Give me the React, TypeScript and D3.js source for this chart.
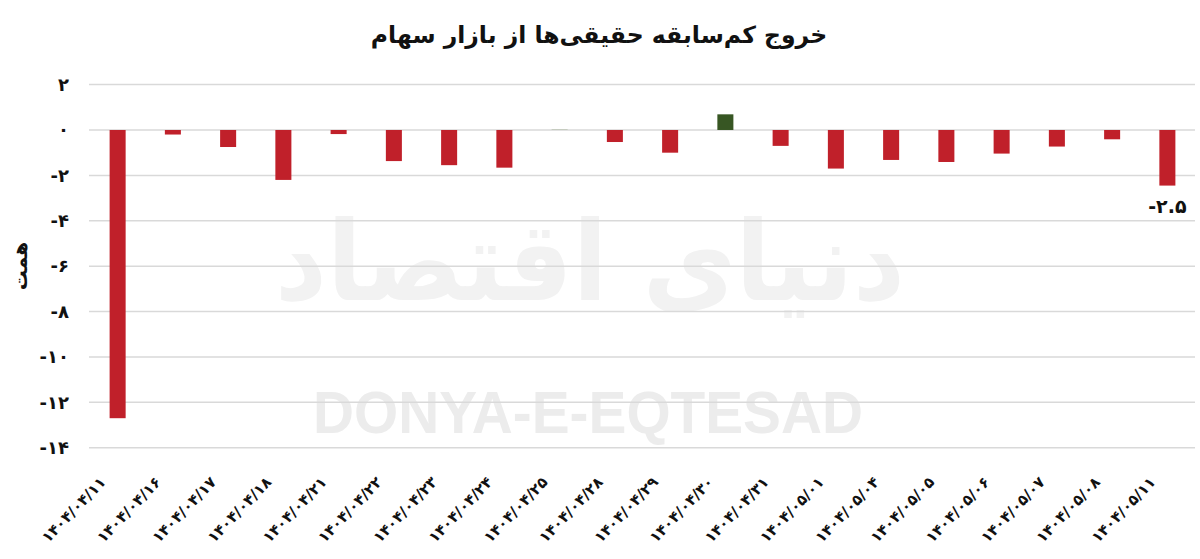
import React from "react";
import * as d3 from "d3";

const categories: string[] = [
  "۱۴۰۴/۰۴/۱۱", "۱۴۰۴/۰۴/۱۶", "۱۴۰۴/۰۴/۱۷", "۱۴۰۴/۰۴/۱۸", "۱۴۰۴/۰۴/۲۱",
  "۱۴۰۴/۰۴/۲۲", "۱۴۰۴/۰۴/۲۳", "۱۴۰۴/۰۴/۲۴", "۱۴۰۴/۰۴/۲۵", "۱۴۰۴/۰۴/۲۸",
  "۱۴۰۴/۰۴/۲۹", "۱۴۰۴/۰۴/۳۰", "۱۴۰۴/۰۴/۳۱", "۱۴۰۴/۰۵/۰۱", "۱۴۰۴/۰۵/۰۴",
  "۱۴۰۴/۰۵/۰۵", "۱۴۰۴/۰۵/۰۶", "۱۴۰۴/۰۵/۰۷", "۱۴۰۴/۰۵/۰۸", "۱۴۰۴/۰۵/۱۱",
];
const values: number[] = [
  -12.7, -0.2, -0.75, -2.2, -0.18, -1.37, -1.55, -1.66, 0.03, -0.53,
  -1.0, 0.69, -0.7, -1.7, -1.32, -1.41, -1.04, -0.73, -0.41, -2.45,
];
const yTicks: number[] = [2, 0, -2, -4, -6, -8, -10, -12, -14];
const yTickLabels: string[] = ["۲", "۰", "-۲", "-۴", "-۶", "-۸", "-۱۰", "-۱۲", "-۱۴"];
const lastLabel = "-۲.۵";
const title = "خروج کم‌سابقه حقیقی‌ها از بازار سهام";
const yTitle = "همت";

const W = 1200;
const H = 559;
const FONT = "'DejaVu Sans', sans-serif";

export default function App() {
  const x = d3.scaleBand<string>().domain(categories).range([90, 1195]).paddingInner(0.71).paddingOuter(0.355);
  const y = d3.scaleLinear().domain([-14, 2]).range([447.7, 84.6]);
  const lastIdx = values.length - 1;
  return (
    <svg width={W} height={H} style={{ position: "absolute", left: 0, top: 0, background: "#fff" }}>
      {/* watermark */}
      <text x={590} y={300} textAnchor="middle" fontFamily={FONT} fontWeight="bold" fontSize={110} fill="#f2f2f2" direction="rtl" textLength={630} lengthAdjust="spacingAndGlyphs">دنیای اقتصاد</text>
      <text x={588} y={433} textAnchor="middle" fontFamily="'Liberation Sans', Arial, sans-serif" fontWeight="bold" fontSize={60} fill="#ececec" textLength={550} lengthAdjust="spacingAndGlyphs">DONYA-E-EQTESAD</text>

      {/* gridlines */}
      {yTicks.map((t) => (
        <line key={t} x1={89} x2={1195} y1={y(t)} y2={y(t)} stroke="#d9d9d9" strokeWidth={1.5} />
      ))}
      {/* y tick labels */}
      {yTicks.map((t, i) => (
        <text key={"l" + t} x={69} y={y(t)} dy="0.35em" textAnchor="end" fontFamily={FONT} fontWeight="bold" fontSize={18} fill="#111" direction="ltr">{yTickLabels[i]}</text>
      ))}
      {/* y title */}
      <text transform={`translate(20,${y(-6)}) rotate(-90)`} textAnchor="middle" dy="0.35em" fontFamily={FONT} fontWeight="bold" fontSize={20} fill="#111">{yTitle}</text>

      {/* bars */}
      {values.map((v, i) => (
        <rect key={i} x={x(categories[i])} width={x.bandwidth()} y={y(Math.max(0, v))} height={Math.abs(y(v) - y(0))} fill={v >= 0 ? (v > 0.1 ? "#375623" : "#b9c2b0") : "#c0202a"} />
      ))}

      {/* last value label */}
      <text x={(x(categories[lastIdx]) as number) + x.bandwidth() / 2} y={y(values[lastIdx]) + 27} textAnchor="middle" fontFamily={FONT} fontWeight="bold" fontSize={19} fill="#111" direction="ltr">{lastLabel}</text>

      {/* x labels */}
      {categories.map((c, i) => {
        const cx = (x(c) as number) + x.bandwidth() / 2;
        return (
          <text key={c} transform={`translate(${cx - 11},${483}) rotate(-46)`} textAnchor="end" fontFamily={FONT} fontWeight="bold" fontSize={15} letterSpacing={-0.6} fill="#111" direction="ltr">{c}</text>
        );
      })}

      {/* title */}
      <text x={599} y={43} textAnchor="middle" fontFamily={FONT} fontWeight="bold" fontSize={23.5} fill="#111" direction="rtl">{title}</text>
    </svg>
  );
}
